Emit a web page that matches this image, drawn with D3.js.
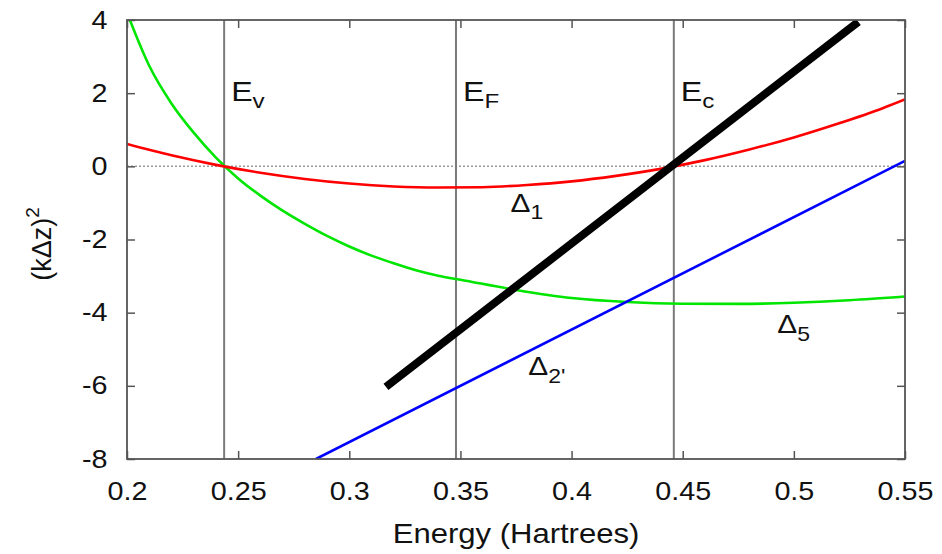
<!DOCTYPE html>
<html>
<head>
<meta charset="utf-8">
<script src="https://cdn.jsdelivr.net/npm/d3@7"></script>
<style>
  html, body { margin: 0; padding: 0; background: #fff; }
  svg { display: block; }
  text { font-family: "Liberation Sans", Arial, Helvetica, sans-serif; fill: #111; }
</style>
</head>
<body>
<svg id="chart" width="942" height="554"></svg>
<script>
// Energy grid (Hartrees) and (kΔz)² for each band
const delta1E = [0.20, 0.22, 0.24, 0.26, 0.28, 0.30, 0.32, 0.34, 0.36, 0.38, 0.40, 0.42, 0.44, 0.46, 0.48, 0.50, 0.52, 0.54, 0.55];
const delta1K = [0.61, 0.30, 0.04, -0.175, -0.345, -0.47, -0.55, -0.58, -0.57, -0.51, -0.41, -0.26, -0.07, 0.17, 0.46, 0.79, 1.17, 1.59, 1.83];

const delta5E = [0.200, 0.210, 0.220, 0.230, 0.240, 0.250, 0.260, 0.270, 0.280, 0.290, 0.300, 0.310, 0.320, 0.330, 0.340, 0.350, 0.375, 0.400, 0.425, 0.450, 0.475, 0.500, 0.525, 0.550];
const delta5K = [4.20, 2.75, 1.72, 0.92, 0.24, -0.33, -0.80, -1.21, -1.57, -1.90, -2.19, -2.44, -2.65, -2.84, -2.99, -3.10, -3.38, -3.60, -3.71, -3.755, -3.76, -3.73, -3.66, -3.56];

const delta2E = [0.285, 0.55];
const delta2K = [-8.0, 0.15];

const lineE = [0.3165, 0.529];
const lineK = [-6.03, 3.95];

// Band-edge energies
const edgeNames = ["v", "F", "c"];
const edgeE = [0.2437, 0.348, 0.446];

const xTicks = [0.2, 0.25, 0.3, 0.35, 0.4, 0.45, 0.5, 0.55];
const yTicks = [-8, -6, -4, -2, 0, 2, 4];

const svg = d3.select("#chart");
const plotL = 127, plotR = 905, plotT = 20, plotB = 459;
const x = d3.scaleLinear().domain([0.2, 0.55]).range([plotL, plotR]);
const y = d3.scaleLinear().domain([-8, 4]).range([plotB, plotT]);
const SX = 1.15; // horizontal widening of glyphs

svg.append("defs").append("clipPath").attr("id", "plotClip")
  .append("rect").attr("x", plotL).attr("y", plotT)
  .attr("width", plotR - plotL).attr("height", plotB - plotT);

// zero reference line
svg.append("line")
  .attr("x1", x(0.2)).attr("x2", x(0.55))
  .attr("y1", y(0)).attr("y2", y(0))
  .attr("stroke", "#999").attr("stroke-width", 1.5)
  .attr("stroke-dasharray", "2,2");

// vertical band-edge lines
svg.selectAll(".edge").data(edgeE).join("line")
  .attr("class", "edge")
  .attr("x1", d => x(d)).attr("x2", d => x(d))
  .attr("y1", y(-8)).attr("y2", y(4))
  .attr("stroke", "#7a7a7a").attr("stroke-width", 2);

// axes with inward ticks on all four sides
const fmt = d => String(d);
const styleAxis = g => {
  g.select(".domain").remove();
  g.selectAll(".tick line").attr("stroke", "#555").attr("stroke-width", 1.5);
  g.selectAll(".tick text").attr("font-size", 25).attr("fill", "#111")
    .attr("font-family", "Liberation Sans, Arial, sans-serif")
    .attr("transform", `scale(${SX},1)`);
};
svg.append("g").attr("transform", `translate(0,${plotB})`)
  .call(d3.axisBottom(x).tickValues(xTicks).tickSize(-8).tickPadding(23).tickFormat(fmt))
  .call(styleAxis);
svg.append("g").attr("transform", `translate(0,${plotT})`)
  .call(d3.axisTop(x).tickValues(xTicks).tickSize(-8).tickFormat(""))
  .call(styleAxis);
svg.append("g").attr("transform", `translate(${plotL},0)`)
  .call(d3.axisLeft(y).tickValues(yTicks).tickSize(-8).tickPadding(17).tickFormat(fmt))
  .call(styleAxis);
svg.append("g").attr("transform", `translate(${plotR},0)`)
  .call(d3.axisRight(y).tickValues(yTicks).tickSize(-8).tickFormat(""))
  .call(styleAxis);

// curves
const plot = svg.append("g").attr("clip-path", "url(#plotClip)");
const curve = d3.line().x(d => x(d[0])).y(d => y(d[1])).curve(d3.curveMonotoneX);
const straight = d3.line().x(d => x(d[0])).y(d => y(d[1]));

plot.append("path").datum(d3.zip(delta5E, delta5K))
  .attr("d", curve).attr("fill", "none").attr("stroke", "#00e600").attr("stroke-width", 2.6);
plot.append("path").datum(d3.zip(delta1E, delta1K))
  .attr("d", curve).attr("fill", "none").attr("stroke", "#ff0000").attr("stroke-width", 2.6);
plot.append("path").datum(d3.zip(delta2E, delta2K))
  .attr("d", straight).attr("fill", "none").attr("stroke", "#0000ff").attr("stroke-width", 2.6);
plot.append("path").datum(d3.zip(lineE, lineK))
  .attr("d", straight).attr("fill", "none").attr("stroke", "#000").attr("stroke-width", 8);

// frame
svg.append("rect").attr("x", plotL).attr("y", plotT)
  .attr("width", plotR - plotL).attr("height", plotB - plotT)
  .attr("fill", "none").attr("stroke", "#555").attr("stroke-width", 1.8);

// subscripted labels
function subLabel(px, py, main, sub, mainSize, subSize, subDy) {
  const t = svg.append("text")
    .attr("transform", `translate(${px},${py}) scale(${SX},1)`)
    .attr("font-size", mainSize);
  t.append("tspan").text(main);
  t.append("tspan").attr("font-size", subSize).attr("dy", subDy).text(sub);
}
edgeE.forEach((e, i) => subLabel(x(e) + 7, 101, "E", edgeNames[i], 28, 21, 7));
subLabel(x(0.3725), 212, "Δ", "1", 26, 20, 7);
subLabel(x(0.4925), 333, "Δ", "5", 26, 20, 8);
subLabel(x(0.3805), 375, "Δ", "2'", 26, 20, 8);

// axis titles
svg.append("text")
  .attr("transform", `translate(${(plotL + plotR) / 2},543) scale(${SX},1)`)
  .attr("text-anchor", "middle").attr("font-size", 27)
  .text("Energy (Hartrees)");

const yt = svg.append("text")
  .attr("transform", `translate(51,244) rotate(-90)`)
  .attr("text-anchor", "middle").attr("font-size", 27);
yt.append("tspan").text("(kΔz)");
yt.append("tspan").attr("font-size", 19).attr("dy", -12).text("2");
</script>
</body>
</html>
